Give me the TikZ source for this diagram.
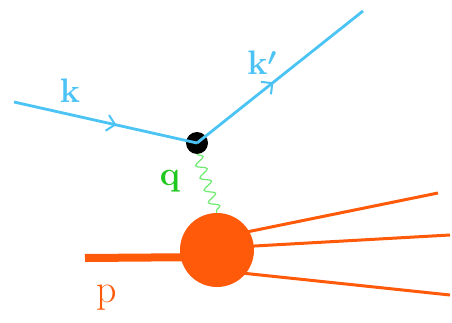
\documentclass[tikz,border=0pt]{standalone}
\usepackage{fontspec}
\usetikzlibrary{arrows.meta,decorations.markings,decorations.pathmorphing}
\definecolor{elec}{RGB}{75,195,245}
\definecolor{prot}{RGB}{255,90,10}
\definecolor{phot}{RGB}{110,235,110}
\definecolor{qcol}{RGB}{30,200,30}
\tikzset{
  electron/.style={draw=elec,line width=2.8pt,
    postaction={decorate},decoration={markings,mark=at position #1 with {\arrow[elec,line width=2pt]{Straight Barb[length=8pt,width=16pt]}}}},
  photon/.style={draw=phot,line width=1.2pt,decorate,decoration={snake,segment length=13pt,amplitude=5pt}},
  hadron/.style={draw=prot,line width=3pt},
  lbl/.style={font=\fontsize{34}{36}\selectfont\bfseries\boldmath},
}
\begin{document}
\begin{tikzpicture}[x=1pt,y=-1pt]
\useasboundingbox (0,0) rectangle (452,323);
\coordinate (ein) at (14,102);
\coordinate (eout) at (363,11);
\node[circle,fill=black,minimum size=22pt,inner sep=0pt] (v) at (197,143) {};
\node[circle,fill=prot,minimum size=74pt,inner sep=0pt] (blob) at (217,250) {};
\coordinate (pin) at (85,258);
\coordinate (pend) at (217,257);
\coordinate (h1) at (438,193);
\coordinate (h2) at (450,235);
\coordinate (h3) at (450,295);
\draw[electron=0.56] (ein) -- (v.center);
\draw[electron=0.46] (v.center) -- (eout);
\draw[photon] (v.south) -- (blob.north);
\draw[prot,line width=8pt] (pin) -- (pend);
\draw[hadron] (blob.center) ++(10,-14) -- (h1);
\draw[hadron] (blob.center) ++(20,-3) -- (h2);
\draw[hadron] (blob.center) ++(15,22) -- (h3);
\node[lbl,text=elec] (lk) at (70,91) {k};
\node[lbl,text=elec] (lkp) at (262,63) {k$'$};
\node[lbl,text=qcol] (lq) at (170,181) {q};
\node[font=\fontsize{40}{42}\selectfont,text=prot] (lp) at (107,298) {p};
\end{tikzpicture}
\end{document}
